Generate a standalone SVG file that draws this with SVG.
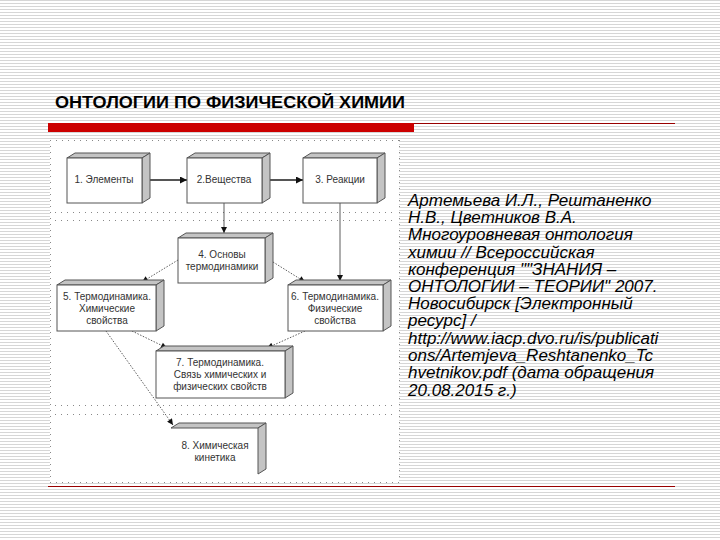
<svg xmlns="http://www.w3.org/2000/svg" width="720" height="540" viewBox="0 0 720 540">
<defs>
<pattern id="stripes" x="0" y="0" width="8" height="3" patternUnits="userSpaceOnUse">
<rect width="8" height="3" fill="#ffffff"/>
<rect y="0" width="8" height="1" fill="#d6d6d6"/>
</pattern>
<marker id="ah" viewBox="0 0 10 10" refX="10" refY="5" markerWidth="9" markerHeight="7" markerUnits="userSpaceOnUse" orient="auto">
<path d="M0,0 L10,5 L0,10 Z" fill="#111"/>
</marker>
<marker id="ahs" viewBox="0 0 10 10" refX="10" refY="5" markerWidth="8" markerHeight="6" markerUnits="userSpaceOnUse" orient="auto">
<path d="M0,0 L10,5 L0,10 Z" fill="#111"/>
</marker>
</defs>
<style>
.face{fill:#ffffff;stroke:#555;stroke-width:1}
.side{fill:#c4c4c4;stroke:#555;stroke-width:1}
.lbl{font-family:"Liberation Sans",Arial,sans-serif;font-size:10px;fill:#333;text-anchor:middle}
.thick{stroke:#555;stroke-width:2;fill:none}
.thin{stroke:#333;stroke-width:0.8;fill:none}
.dash{stroke:#333;stroke-width:0.8;stroke-dasharray:1.5,1.5;fill:none}
.dots{stroke:#888;stroke-width:1;stroke-dasharray:1,5;fill:none}
.cite{font-family:"Liberation Sans",Arial,sans-serif;font-size:17px;font-style:italic;fill:#000}
</style>
<rect width="720" height="540" fill="url(#stripes)"/>
<text x="55" y="108" font-family="'Liberation Sans',Arial,sans-serif" font-size="17" font-weight="bold" fill="#000" textLength="350" lengthAdjust="spacingAndGlyphs">ОНТОЛОГИИ ПО ФИЗИЧЕСКОЙ ХИМИИ</text>
<rect x="48" y="123" width="366" height="9" fill="#cc0000"/>
<line x1="414" y1="123.5" x2="675" y2="123.5" stroke="#990000" stroke-width="1"/>
<line x1="48" y1="486.5" x2="675" y2="486.5" stroke="#990000" stroke-width="1"/>
<rect x="50" y="140" width="349" height="342" fill="#ffffff"/>
<g id="frame">
<line class="dots" x1="50" y1="140.5" x2="399" y2="140.5"/>
<line class="dots" x1="50" y1="482.5" x2="399" y2="482.5"/>
<line class="dots" x1="50.5" y1="140" x2="50.5" y2="482"/>
<line class="dots" x1="399.5" y1="140" x2="399.5" y2="482"/>
<line class="dots" x1="55" y1="212.5" x2="395" y2="212.5"/>
<line class="dots" x1="55" y1="220.5" x2="395" y2="220.5" stroke="#bbb"/>
<line class="dots" x1="55" y1="405.5" x2="395" y2="405.5" stroke="#bbb"/>
<line class="dots" x1="55" y1="414.5" x2="395" y2="414.5" stroke="#bbb"/>
</g>
<g id="connectors">
<line class="thick" x1="150" y1="180" x2="187" y2="180" marker-end="url(#ah)"/>
<line class="thick" x1="270" y1="180" x2="303" y2="180" marker-end="url(#ah)"/>
<line class="thin" x1="224" y1="203" x2="224" y2="233" marker-end="url(#ahs)"/>
<line class="thin" x1="340" y1="203" x2="340" y2="281" marker-end="url(#ahs)"/>
<line class="dash" x1="178" y1="260" x2="142" y2="282" marker-end="url(#ahs)"/>
<line class="dash" x1="273" y1="262" x2="305" y2="282" marker-end="url(#ahs)"/>
<line class="dash" x1="132" y1="331" x2="167" y2="348" marker-end="url(#ahs)"/>
<line class="dash" x1="305" y1="331" x2="267" y2="348" marker-end="url(#ahs)"/>
<line class="dash" x1="106" y1="331" x2="173" y2="425" marker-end="url(#ahs)"/>
</g>
<g id="n1">
<polygon class="side" points="67,158 75,153 150,153 142,158"/>
<polygon class="side" points="142,158 150,153 150,198 142,203"/>
<rect class="face" x="67" y="158" width="75" height="45"/>
<text class="lbl" x="104" y="183">1. Элементы</text>
</g>
<g id="n2">
<polygon class="side" points="187,158 195,153 270,153 262,158"/>
<polygon class="side" points="262,158 270,153 270,198 262,203"/>
<rect class="face" x="187" y="158" width="75" height="45"/>
<text class="lbl" x="224" y="183">2.Вещества</text>
</g>
<g id="n3">
<polygon class="side" points="303,158 311,153 385,153 377,158"/>
<polygon class="side" points="377,158 385,153 385,198 377,203"/>
<rect class="face" x="303" y="158" width="74" height="45"/>
<text class="lbl" x="340" y="183">3. Реакции</text>
</g>
<g id="n4">
<polygon class="side" points="178,238 186,233 273,233 265,238"/>
<polygon class="side" points="265,238 273,233 273,278 265,283"/>
<rect class="face" x="178" y="238" width="87" height="45"/>
<text class="lbl" x="222" y="258">4. Основы</text>
<text class="lbl" x="222" y="270">термодинамики</text>
</g>
<g id="n5">
<polygon class="side" points="57,285 65,280 164,280 156,285"/>
<polygon class="side" points="156,285 164,280 164,326 156,331"/>
<rect class="face" x="57" y="285" width="99" height="46"/>
<text class="lbl" x="107" y="300">5. Термодинамика.</text>
<text class="lbl" x="107" y="312">Химические</text>
<text class="lbl" x="107" y="324">свойства</text>
</g>
<g id="n6">
<polygon class="side" points="288,285 296,280 391,280 383,285"/>
<polygon class="side" points="383,285 391,280 391,326 383,331"/>
<rect class="face" x="288" y="285" width="95" height="46"/>
<text class="lbl" x="335" y="300">6. Термодинамика.</text>
<text class="lbl" x="335" y="312">Физические</text>
<text class="lbl" x="335" y="324">свойства</text>
</g>
<g id="n7">
<polygon class="side" points="156,351 164,346 293,346 285,351"/>
<polygon class="side" points="285,351 293,346 293,393 285,398"/>
<rect class="face" x="156" y="351" width="129" height="47"/>
<text class="lbl" x="220" y="366">7. Термодинамика.</text>
<text class="lbl" x="220" y="378">Связь химических и</text>
<text class="lbl" x="220" y="390">физических свойств</text>
</g>
<g id="n8">
<polygon class="side" points="171,428 179,423 266,423 258,428"/>
<polygon class="side" points="258,428 266,423 266,469 258,474"/>
<text class="lbl" x="215" y="449">8. Химическая</text>
<text class="lbl" x="215" y="461">кинетика</text>
</g>
<g id="citation">
<text class="cite" x="408" y="206">Артемьева И.Л., Рештаненко</text>
<text class="cite" x="408" y="223">Н.В., Цветников В.А.</text>
<text class="cite" x="408" y="240">Многоуровневая онтология</text>
<text class="cite" x="408" y="258">химии // Всероссийская</text>
<text class="cite" x="408" y="275">конференция ""ЗНАНИЯ –</text>
<text class="cite" x="408" y="292">ОНТОЛОГИИ – ТЕОРИИ" 2007.</text>
<text class="cite" x="408" y="309">Новосибирск [Электронный</text>
<text class="cite" x="408" y="326">ресурс] /</text>
<text class="cite" x="408" y="344">http://www.iacp.dvo.ru/is/publicati</text>
<text class="cite" x="408" y="361">ons/Artemjeva_Reshtanenko_Tc</text>
<text class="cite" x="408" y="378">hvetnikov.pdf (дата обращения</text>
<text class="cite" x="408" y="396">20.08.2015 г.)</text>
</g>
</svg>
